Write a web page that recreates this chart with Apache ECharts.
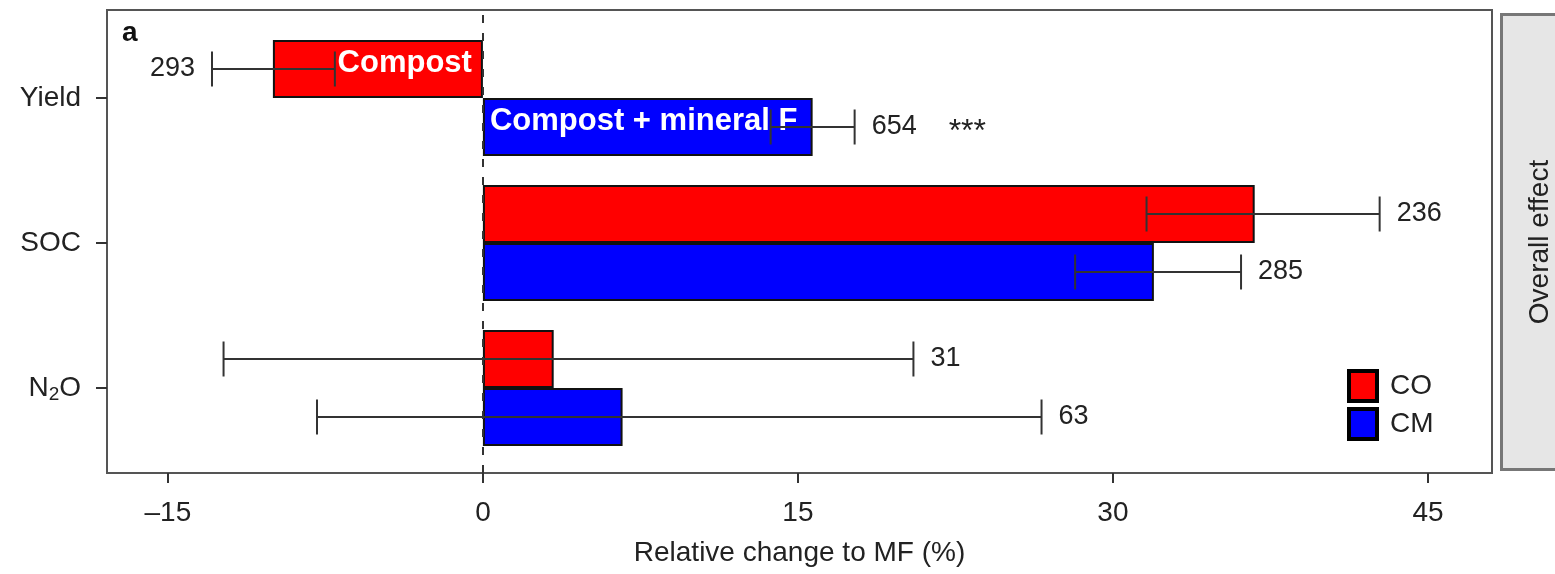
<!DOCTYPE html>
<html>
<head>
<meta charset="utf-8">
<script src="https://cdn.jsdelivr.net/npm/echarts@6/dist/echarts.min.js"></script>
<style>
  html, body { margin: 0; padding: 0; background: #fff; }
  #chart { width: 1555px; height: 574px; }
</style>
</head>
<body>
<div id="chart"></div>
<script>
// Relative change to mineral fertilisation (MF), mean with confidence interval
const categories = ['Yield', 'SOC', 'N2O'];
const groupNames = ['CO', 'CM'];
const groupColors = ['#ff0000', '#0000ff'];

const coMean = [-10.0, 36.75, 3.37];
const cmMean = [15.7, 31.95, 6.65];
const coLow  = [-12.9, 31.6, -12.35];
const coHigh = [-7.05, 42.7, 20.5];
const cmLow  = [13.7, 28.2, -7.9];
const cmHigh = [17.7, 36.1, 26.6];
const coCount = [293, 236, 31];
const cmCount = [654, 285, 63];
const cmSignif = ['***', '', ''];
const coNote = ['Compost', '', ''];
const cmNote = ['Compost + mineral F', '', ''];
const xTicks = [-15, 0, 15, 30, 45];

const FONT = "'Liberation Sans', Arial, Helvetica, sans-serif";
const BAR_W = 58;
const X_MIN = -17.9, X_MAX = 48.05;

const groups = [
  { mean: coMean, low: coLow, high: coHigh, count: coCount, sig: ['', '', ''], note: coNote },
  { mean: cmMean, low: cmLow, high: cmHigh, count: cmCount, sig: cmSignif, note: cmNote }
];

function barData(g) {
  return g.mean.map((v, i) => {
    const note = g.note[i];
    return {
      value: v,
      label: note ? {
        show: true,
        formatter: note,
        position: v < 0 ? 'insideRight' : 'insideLeft',
        distance: v < 0 ? 11 : 7,
        offset: [0, -6],
        color: '#fff',
        fontSize: 31,
        fontWeight: 'bold',
        fontFamily: FONT
      } : { show: false }
    };
  });
}

const errRows = [];
groups.forEach((g, gi) => {
  g.mean.forEach((m, i) => {
    errRows.push([i, g.low[i], g.high[i], g.count[i], gi, m]);
  });
});

function renderErr(params, api) {
  const cat = api.value(0), lo = api.value(1), hi = api.value(2);
  const n = api.value(3), gi = api.value(4), mean = api.value(5);
  const yc = api.coord([0, cat])[1] + (gi === 0 ? -1 : 1) * BAR_W / 2;
  const xl = api.coord([lo, cat])[0];
  const xh = api.coord([hi, cat])[0];
  const half = 17.5;
  const ls = { stroke: '#333', lineWidth: 2 };
  const kids = [
    { type: 'line', shape: { x1: xl, y1: yc, x2: xh, y2: yc }, style: ls },
    { type: 'line', shape: { x1: xl, y1: yc - half, x2: xl, y2: yc + half }, style: ls },
    { type: 'line', shape: { x1: xh, y1: yc - half, x2: xh, y2: yc + half }, style: ls }
  ];
  const left = mean < 0;
  const tx = left ? xl - 17 : xh + 17;
  kids.push({
    type: 'text',
    style: {
      x: tx, y: yc, text: String(n), fill: '#222', fontSize: 27, fontFamily: FONT,
      align: left ? 'right' : 'left', verticalAlign: 'middle'
    }
  });
  const sig = groups[gi].sig[cat];
  if (sig) {
    kids.push({
      type: 'text',
      style: {
        x: tx + 77, y: yc + 5, text: sig, fill: '#222', fontSize: 32, fontFamily: FONT,
        align: 'left', verticalAlign: 'middle'
      }
    });
  }
  return { type: 'group', children: kids };
}

const chart = echarts.init(document.getElementById('chart'), null, { renderer: 'canvas', width: 1555, height: 574 });

const option = {
  animation: false,
  backgroundColor: '#fff',
  textStyle: { fontFamily: FONT },
  grid: [
    { left: 107, width: 1385, top: 25.5, height: 435, containLabel: false },
    { left: 107, width: 1385, top: 10, height: 463, show: true, borderColor: '#555', borderWidth: 2, backgroundColor: 'transparent', containLabel: false }
  ],
  xAxis: [
    { gridIndex: 0, type: 'value', min: X_MIN, max: X_MAX, show: false },
    {
      gridIndex: 1, type: 'value', min: X_MIN, max: X_MAX,
      splitLine: { show: false },
      axisLine: { show: false, onZero: false },
      axisTick: { show: true, length: 10, lineStyle: { color: '#333', width: 2 }, customValues: xTicks },
      axisLabel: {
        show: true, margin: 26, fontSize: 28, color: '#222', fontFamily: FONT,
        customValues: xTicks,
        formatter: v => (v < 0 ? '\u2013' + Math.abs(v) : String(v))
      },
      name: 'Relative change to MF (%)',
      nameLocation: 'middle',
      nameGap: 66,
      nameTextStyle: { fontSize: 28, color: '#222', fontFamily: FONT }
    }
  ],
  yAxis: [
    {
      gridIndex: 0, type: 'category', data: categories, inverse: true,
      axisLine: { show: false, onZero: false },
      axisTick: { show: true, alignWithLabel: true, length: 11, lineStyle: { color: '#333', width: 2 } },
      axisLabel: {
        margin: 26, fontSize: 28, color: '#222', fontFamily: FONT,
        formatter: v => (v === 'N2O' ? '{a|N}{b|2}{a|O}' : v),
        rich: {
          a: { fontSize: 28, color: '#222', fontFamily: FONT },
          b: { fontSize: 19, color: '#222', fontFamily: FONT, padding: [14, 0, 0, 0] }
        }
      },
      splitLine: { show: false }
    },
    { gridIndex: 1, type: 'value', min: 0, max: 1, show: false }
  ],
  legend: {
    orient: 'vertical',
    left: 1347, top: 369,
    padding: 0,
    itemWidth: 28, itemHeight: 30, itemGap: 4,
    icon: 'rect',
    itemStyle: { borderColor: '#000', borderWidth: 4 },
    textStyle: { fontSize: 28, color: '#222', fontFamily: FONT, padding: [0, 0, 0, 8] },
    data: groupNames
  },
  series: [
    {
      name: groupNames[0], type: 'bar', xAxisIndex: 0, yAxisIndex: 0,
      barWidth: BAR_W, barGap: '0%',
      itemStyle: { color: groupColors[0], borderColor: '#111', borderWidth: 2 },
      data: barData(groups[0]), z: 2
    },
    {
      name: groupNames[1], type: 'bar', xAxisIndex: 0, yAxisIndex: 0,
      barWidth: BAR_W, barGap: '0%',
      itemStyle: { color: groupColors[1], borderColor: '#111', borderWidth: 2 },
      data: barData(groups[1]), z: 2
    },
    {
      type: 'custom', xAxisIndex: 0, yAxisIndex: 0,
      renderItem: renderErr,
      encode: { x: [1, 2], y: 0 },
      data: errRows, z: 5, silent: true
    },
    {
      type: 'line', xAxisIndex: 1, yAxisIndex: 1, data: [], silent: true,
      markLine: {
        silent: true, symbol: 'none', label: { show: false },
        lineStyle: { color: '#333', width: 2, type: [8, 10] },
        data: [{ xAxis: 0 }]
      },
      z: 6
    }
  ],
  graphic: [
    {
      type: 'text', left: 122, top: 19,
      style: { text: 'a', fontSize: 28, fontWeight: 'bold', fill: '#111', fontFamily: FONT }
    },
    {
      type: 'rect', shape: { x: 1501.5, y: 14.5, width: 80, height: 455 },
      style: { fill: '#e6e6e6', stroke: '#777', lineWidth: 3 }
    },
    {
      type: 'text', x: 1540, y: 242, rotation: Math.PI / 2,
      style: { text: 'Overall effect', fontSize: 28, fill: '#222', fontFamily: FONT, align: 'center', verticalAlign: 'middle' }
    }
  ]
};

chart.setOption(option);
</script>
</body>
</html>
